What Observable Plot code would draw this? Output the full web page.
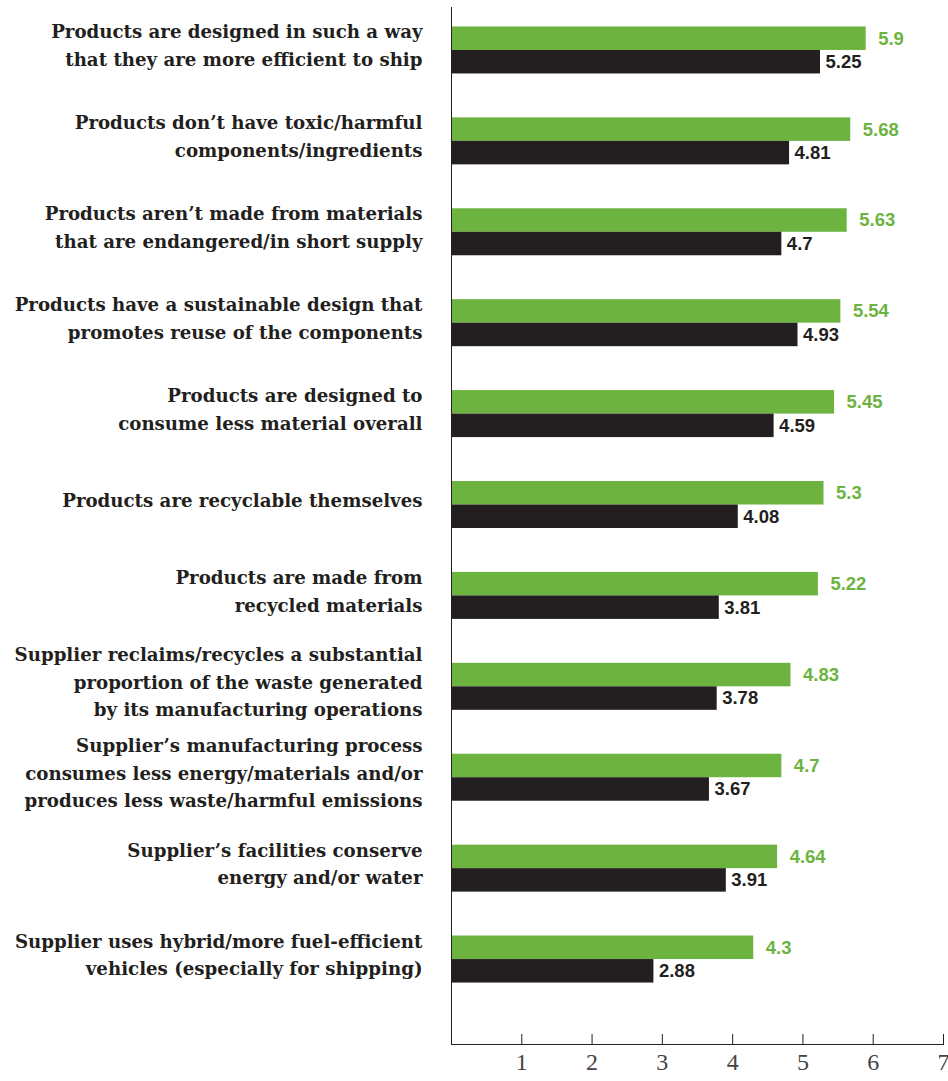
<!DOCTYPE html>
<html>
<head>
<meta charset="utf-8">
<script src="https://cdn.jsdelivr.net/npm/d3@7"></script>
<script src="https://cdn.jsdelivr.net/npm/@observablehq/plot@0.6"></script>
<style>
  html, body { margin: 0; padding: 0; background: #fff; }
  #chart svg { display: block; }
</style>
</head>
<body>
<div id="chart"></div>
<script>
const categories = [
  "Products are designed in such a way\nthat they are more efficient to ship",
  "Products don\u2019t have toxic/harmful\ncomponents/ingredients",
  "Products aren\u2019t made from materials\nthat are endangered/in short supply",
  "Products have a sustainable design that\npromotes reuse of the components",
  "Products are designed to\nconsume less material overall",
  "Products are recyclable themselves",
  "Products are made from\nrecycled materials",
  "Supplier reclaims/recycles a substantial\nproportion of the waste generated\nby its manufacturing operations",
  "Supplier\u2019s manufacturing process\nconsumes less energy/materials and/or\nproduces less waste/harmful emissions",
  "Supplier\u2019s facilities conserve\nenergy and/or water",
  "Supplier uses hybrid/more fuel-efficient\nvehicles (especially for shipping)"
];
const greenValues = [5.9, 5.68, 5.63, 5.54, 5.45, 5.3, 5.22, 4.83, 4.7, 4.64, 4.3];
const blackValues = [5.25, 4.81, 4.7, 4.93, 4.59, 4.08, 3.81, 3.78, 3.67, 3.91, 2.88];
const tickValues = [1, 2, 3, 4, 5, 6, 7];

const GREEN = "#6db33f";
const BLACK = "#231f20";

const green = categories.map((c, i) => ({category: c, value: greenValues[i]}));
const black = categories.map((c, i) => ({category: c, value: blackValues[i]}));

const chart = Plot.plot({
  width: 948,
  height: 1081,
  marginLeft: 451,
  marginRight: 5,
  marginTop: 7,
  marginBottom: 37,
  style: {background: "#fff"},
  x: {domain: [0, 7]},
  y: {type: "band", domain: categories, range: [4.5, 1004.5], paddingInner: 0.483, paddingOuter: 0.2415, round: false, axis: null},
  marks: [
    Plot.barX(green, {x: "value", y: "category", fill: GREEN, insetTop: 0, insetBottom: 23.5}),
    Plot.barX(black, {x: "value", y: "category", fill: BLACK, insetTop: 23.5, insetBottom: 0}),
    Plot.text(green, {x: "value", y: "category", text: d => String(d.value), dx: 12, dy: -11.75,
      textAnchor: "start", fill: GREEN, fontSize: 18.5, fontWeight: "bold", fontFamily: "Liberation Sans"}),
    Plot.text(black, {x: "value", y: "category", text: d => String(d.value), dx: 5, dy: 11.75,
      textAnchor: "start", fill: BLACK, fontSize: 18.5, fontWeight: "bold", fontFamily: "Liberation Sans"}),
    Plot.text(categories, {x: () => 0, y: d => d, text: d => d, dx: -29, dy: -7, textAnchor: "end",
      lineHeight: 1.52, fill: BLACK, fontSize: 18.2, fontWeight: "bold", fontFamily: "DejaVu Serif"}),
    Plot.ruleX([0], {stroke: BLACK, strokeWidth: 1}),
    Plot.frame({anchor: "bottom", stroke: BLACK, strokeWidth: 1}),
    Plot.axisX({ticks: tickValues, tickSize: 10, dy: -10, tickFormat: () => "", stroke: BLACK, label: null}),
    Plot.axisX({ticks: tickValues, tickSize: 0, tickPadding: 8, tickFormat: d3.format("d"), label: null, fontSize: 24,
      fontFamily: "Liberation Serif", fill: "#444"})
  ]
});
document.getElementById("chart").appendChild(chart);
</script>
</body>
</html>
